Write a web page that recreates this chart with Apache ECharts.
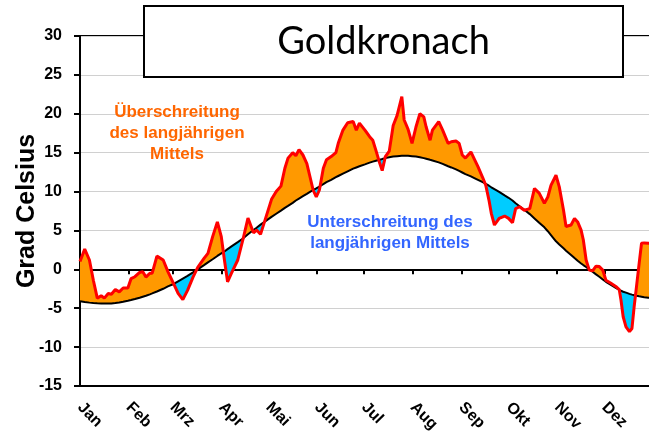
<!DOCTYPE html>
<html>
<head>
<meta charset="utf-8">
<title>Goldkronach</title>
<script src="https://cdn.jsdelivr.net/npm/echarts@6/dist/echarts.min.js"></script>
<style>
  html, body { margin: 0; padding: 0; background: #fff; }
  #chart { width: 649px; height: 441px; }
</style>
</head>
<body>
<div id="chart"></div>
<script>
// Tag des Jahres (0 = 1. Januar)
var days = [
  0, 3, 6, 8.5, 11, 13.5, 15.5, 18, 20, 22.5, 25, 27.5, 30.5,
  32.5, 35, 38, 40, 42, 44.5, 46, 49, 53, 56,
  60, 62.5, 65.5, 68.5, 72, 75, 79, 81.5, 84.5, 87.5,
  90, 92, 94, 96.5, 100.5, 104, 107, 110.5, 112.5, 115, 117.5,
  122, 125, 128, 130.5, 132.5, 135.5, 137.5, 139.5, 142, 144.5, 146.5, 148.5, 150.5,
  152.5, 155, 157, 160, 163, 164.5, 167.5, 170.5, 174, 176, 178,
  181.5, 184.5, 186.5, 188.5, 191, 192.5, 194.5, 197, 199.5, 202, 205, 206.5, 209,
  211.5, 214, 216.5, 219, 220.5, 223, 224.5, 228.5, 231, 234.5, 236.5, 239.5, 241.5,
  243.5, 245.5, 249, 251.5, 253.5, 256.5, 258.5, 260.5, 262, 264, 267, 270.5,
  273, 275.5, 277.5, 280, 283, 286.5, 289.5, 292.5, 295.8, 298, 300, 303.2,
  305.3, 308, 309.6, 312.8, 315, 317, 319.2, 320.6, 322.4, 324.4, 326.5, 328.7, 330.8, 333,
  335, 338.2, 341.3, 343.5, 344.6, 346, 347.8, 350, 351.6, 353, 354.5, 356.2, 357.7, 359.4, 362, 365
];

// Tagesmitteltemperatur (rote Linie)
var dailyTemp = [
  1.0, 2.6, 1.2, -1.4, -3.7, -3.4, -3.7, -3.1, -3.2, -2.6, -2.9, -2.4, -2.4,
  -1.2, -0.95, -0.4, -0.3, -1.0, -0.5, -0.5, 1.7, 1.2, -0.3,
  -2.0, -3.1, -3.9, -2.7, -1.0, 0.25, 1.4, 2.05, 4.2, 6.1,
  4.2, 1.2, -1.6, -0.5, 1.2, 4.0, 6.6, 4.7, 5.05, 4.5, 6.1,
  9.0, 10.0, 10.7, 13.0, 14.3, 15.0, 14.6, 15.4, 14.7, 13.6, 11.9, 10.2, 9.3,
  10.2, 13.0, 14.1, 14.5, 15.0, 16.2, 17.9, 18.85, 19.0, 17.9, 18.8,
  17.9, 17.05, 16.6, 15.3, 13.6, 12.7, 14.5, 15.2, 18.5, 19.8, 22.2, 19.2, 18.0,
  16.2, 18.3, 20.0, 19.6, 18.3, 16.6, 17.9, 19.0, 17.9, 16.2, 16.4, 16.5, 16.2,
  14.7, 14.3, 15.1, 14.05, 13.2, 11.8, 10.8, 8.9, 7.2, 5.7, 6.55, 6.85,
  6.55, 6.0, 7.8, 8.05, 7.6, 7.8, 10.4, 9.8, 8.5, 9.3, 10.8, 12.1,
  10.6, 7.6, 5.5, 5.7, 6.55, 6.1, 5.05, 3.8, 1.2, -0.1, -0.2, 0.4, 0.35, -0.1,
  -1.4, -1.8, -2.2, -2.6, -3.95, -6.1, -7.4, -8.0, -7.6, -4.8, -2.2, 0.8, 3.35, 3.4, 3.35, 3.3
];

// langjähriges Mittel (schwarze Linie)
var meanTemp = [
  -4.1, -4.2, -4.28, -4.33, -4.37, -4.4, -4.4, -4.4, -4.38, -4.33, -4.27, -4.18, -4.05,
  -3.95, -3.82, -3.65, -3.52, -3.4, -3.22, -3.1, -2.85, -2.5, -2.2,
  -1.85, -1.55, -1.2, -0.85, -0.4, 0.0, 0.55, 0.9, 1.3, 1.72,
  2.05, 2.3, 2.6, 2.95, 3.5, 4.0, 4.5, 5.05, 5.35, 5.75, 6.1,
  6.75, 7.15, 7.55, 7.9, 8.15, 8.55, 8.85, 9.1, 9.4, 9.7, 9.95, 10.2, 10.4,
  10.65, 10.95, 11.2, 11.5, 11.85, 12.0, 12.3, 12.6, 12.95, 13.1, 13.25,
  13.5, 13.72, 13.85, 13.97, 14.1, 14.18, 14.3, 14.42, 14.5, 14.55, 14.6, 14.6, 14.6,
  14.55, 14.5, 14.4, 14.3, 14.22, 14.08, 14.0, 13.75, 13.55, 13.25, 13.1, 12.85, 12.65,
  12.45, 12.25, 11.95, 11.7, 11.5, 11.2, 11.0, 10.75, 10.55, 10.3, 9.95, 9.5,
  9.2, 8.85, 8.5, 8.1, 7.65, 7.1, 6.55, 6.0, 5.4, 4.9, 4.4, 3.6,
  3.2, 2.7, 2.4, 1.85, 1.45, 1.1, 0.75, 0.55, 0.3, 0.0, -0.3, -0.65, -0.95, -1.3,
  -1.6, -2.0, -2.4, -2.65, -2.75, -2.88, -3.0, -3.15, -3.25, -3.33, -3.4, -3.47, -3.52, -3.58, -3.65, -3.75
];

var monthStart = [0, 31, 59, 90, 120, 151, 181, 212, 243, 273, 304, 334];
var monthNames = ['Jan', 'Feb', 'Mrz', 'Apr', 'Mai', 'Jun', 'Jul', 'Aug', 'Sep', 'Okt', 'Nov', 'Dez'];
var yMin = -15, yMax = 30, yStep = 5;

// Flächen zwischen Tageswert und Mittel (gestapelt: Basis + darüber + darunter)
var lowEdge = [], aboveBand = [], belowBand = [];
function pushPoint(x, t, m) {
  lowEdge.push([Math.min(t, m), x]);
  aboveBand.push([Math.max(t - m, 0), x]);
  belowBand.push([Math.max(m - t, 0), x]);
}
for (var i = 0; i < days.length; i++) {
  pushPoint(days[i], dailyTemp[i], meanTemp[i]);
  if (i < days.length - 1) {
    var d0 = dailyTemp[i] - meanTemp[i], d1 = dailyTemp[i + 1] - meanTemp[i + 1];
    if (d0 * d1 < 0) {
      // Schnittpunkt der beiden Linien, damit die Farben sauber wechseln
      var f = d0 / (d0 - d1);
      var xc = days[i] + f * (days[i + 1] - days[i]);
      var yc = dailyTemp[i] + f * (dailyTemp[i + 1] - dailyTemp[i]);
      pushPoint(xc, yc, yc);
    }
  }
}

var chart = echarts.init(document.getElementById('chart'));
var fontFam = '"Liberation Sans", Arial, sans-serif';

var bandSeries = function (name, data, color) {
  return {
    name: name,
    type: 'line',
    data: data,
    encode: { x: 1, y: 0 },
    stack: 'band',
    stackStrategy: 'all',
    symbol: 'none',
    silent: true,
    lineStyle: { width: 0, opacity: 0 },
    areaStyle: color ? { color: color, opacity: 1 } : null,
    z: 2
  };
};

chart.setOption({
  animation: false,
  backgroundColor: '#fff',
  grid: {
    left: 80, right: -4, top: 36, bottom: 55,
    outerBoundsMode: 'none',
    show: true, borderColor: '#000', borderWidth: 2,
    backgroundColor: 'transparent'
  },
  xAxis: [{
    type: 'value', min: 0, max: 365, position: 'bottom',
    axisLine: { onZero: false, lineStyle: { color: '#000', width: 2 } },
    axisTick: { show: false },
    splitLine: { show: false },
    axisLabel: {
      customValues: monthStart,
      formatter: function (v) { return monthNames[monthStart.indexOf(v)]; },
      rotate: -45, margin: 19,
      color: '#000', fontWeight: 'bold', fontSize: 16, fontFamily: fontFam
    }
  }, {
    type: 'value', min: 0, max: 365, position: 'top',
    axisLine: { onZero: true, onZeroAxisIndex: 0, lineStyle: { color: '#000', width: 2 } },
    axisTick: { show: true, inside: true, length: 5, customValues: monthStart, lineStyle: { color: '#000', width: 2 } },
    axisLabel: { show: false },
    splitLine: { show: false }
  }],
  yAxis: {
    type: 'value', min: yMin, max: yMax, interval: yStep,
    name: 'Grad Celsius', nameLocation: 'middle', nameRotate: 90, nameGap: 40,
    nameMoveOverlap: false,
    nameTextStyle: { color: '#000', fontWeight: 'bold', fontSize: 25, fontFamily: fontFam },
    axisLine: { show: true, lineStyle: { color: '#000', width: 2 } },
    axisTick: { show: true, length: 6, lineStyle: { color: '#000', width: 2 } },
    axisLabel: { color: '#000', fontWeight: 'bold', fontSize: 16, fontFamily: fontFam, margin: 18 },
    splitLine: { show: true, lineStyle: { color: '#d0d0d0', width: 1 } }
  },
  series: [
    bandSeries('Basis', lowEdge, null),
    bandSeries('Überschreitung', aboveBand, '#FF9900'),
    bandSeries('Unterschreitung', belowBand, '#00CCFF'),
    {
      name: 'Mittel', type: 'line', xAxisIndex: 0,
      data: days.map(function (d, k) { return [d, meanTemp[k]]; }),
      symbol: 'none', lineStyle: { color: '#000', width: 2 }, z: 4
    },
    {
      name: 'Tageswert', type: 'line', xAxisIndex: 0,
      data: days.map(function (d, k) { return [d, dailyTemp[k]]; }),
      symbol: 'none', lineStyle: { color: '#FF0000', width: 3 }, z: 5
    }
  ],
  graphic: [
    {
      type: 'rect', z: 100,
      shape: { x: 144, y: 6, width: 479, height: 71 },
      style: { fill: '#fff', stroke: '#000', lineWidth: 2 }
    },
    {
      type: 'text', z: 101, x: 383.5, y: 42,
      style: {
        text: 'Goldkronach', textAlign: 'center', textVerticalAlign: 'middle',
        font: 'normal 38px Lato, "Open Sans", sans-serif', fill: '#000'
      }
    },
    {
      type: 'text', z: 101, x: 177, y: 133,
      style: {
        text: 'Überschreitung\ndes langjährigen\nMittels', textAlign: 'center', textVerticalAlign: 'middle',
        font: 'bold 17px ' + fontFam, lineHeight: 21, fill: '#FF6600'
      }
    },
    {
      type: 'text', z: 101, x: 390, y: 232.5,
      style: {
        text: 'Unterschreitung des\nlangjährigen Mittels', textAlign: 'center', textVerticalAlign: 'middle',
        font: 'bold 17px ' + fontFam, lineHeight: 21, fill: '#3366FF'
      }
    }
  ]
});
</script>
</body>
</html>
